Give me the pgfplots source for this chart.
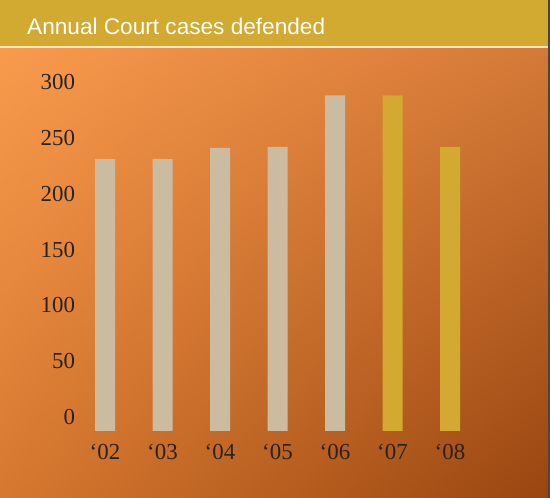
\documentclass[border=0pt]{standalone}
\usepackage{pgfplots}
\pgfplotsset{compat=1.18}
\usetikzlibrary{shadings}
\usepackage{fontspec}
\setmainfont{Liberation Serif}
\newfontfamily\arialfont{Liberation Sans}
\definecolor{bgUL}{HTML}{F99B4D}
\definecolor{bgUR}{HTML}{D47937}
\definecolor{bgLL}{HTML}{D6782F}
\definecolor{bgLR}{HTML}{994510}
\definecolor{titlebar}{HTML}{D2A931}
\definecolor{cream}{HTML}{F3E6C6}
\definecolor{darkedge}{HTML}{4A4540}
\definecolor{beige}{HTML}{CABBA1}
\definecolor{gold}{HTML}{D3A931}
\definecolor{ink}{HTML}{2A221C}
\begin{document}
\begin{tikzpicture}[x=1bp,y=1bp]
\useasboundingbox (0,0) rectangle (550,498);
\shade[upper left=bgUL, upper right=bgUR, lower left=bgLL, lower right=bgLR] (0,0) rectangle (550,450);
\fill[titlebar] (0,452) rectangle (550,498);
\fill[cream] (0,450) rectangle (550,452);
\fill[darkedge] (548,0) rectangle (550,498);
\node[anchor=base west, inner sep=0pt, text=white, font=\arialfont\fontsize{22.7}{27}\selectfont] at (27,463) {Annual Court cases defended};
\begin{axis}[
  at={(76.25bp,67bp)}, anchor=south west,
  scale only axis, width=402.5bp, height=360.1bp,
  xmin=-0.5, xmax=6.5, ymin=-12.5, ymax=310,
  axis line style={draw=none}, tick style={draw=none},
  xtick={0,1,2,3,4,5,6},
  xticklabels={{‘02},{‘03},{‘04},{‘05},{‘06},{‘07},{‘08}},
  ytick={0,50,100,150,200,250,300},
  yticklabel style={anchor=east, inner sep=0pt, xshift=-1bp},
  xticklabel style={anchor=north, inner sep=0pt, yshift=-13bp},
  tick label style={font=\fontsize{23}{27}\selectfont, text=ink},
  /pgf/number format/assume math mode=true,
  clip=false,
]
\addplot[ybar, bar width=20bp, bar shift=0pt, fill=beige, draw=none] coordinates {(0,231) (1,231) (2,241) (3,242) (4,288)};
\addplot[ybar, bar width=20bp, bar shift=0pt, fill=beige, draw=none] coordinates {(0,-12.5) (1,-12.5) (2,-12.5) (3,-12.5) (4,-12.5)};
\addplot[ybar, bar width=20bp, bar shift=0pt, fill=gold, draw=none] coordinates {(5,288) (6,242)};
\addplot[ybar, bar width=20bp, bar shift=0pt, fill=gold, draw=none] coordinates {(5,-12.5) (6,-12.5)};
\end{axis}
\end{tikzpicture}
\end{document}
